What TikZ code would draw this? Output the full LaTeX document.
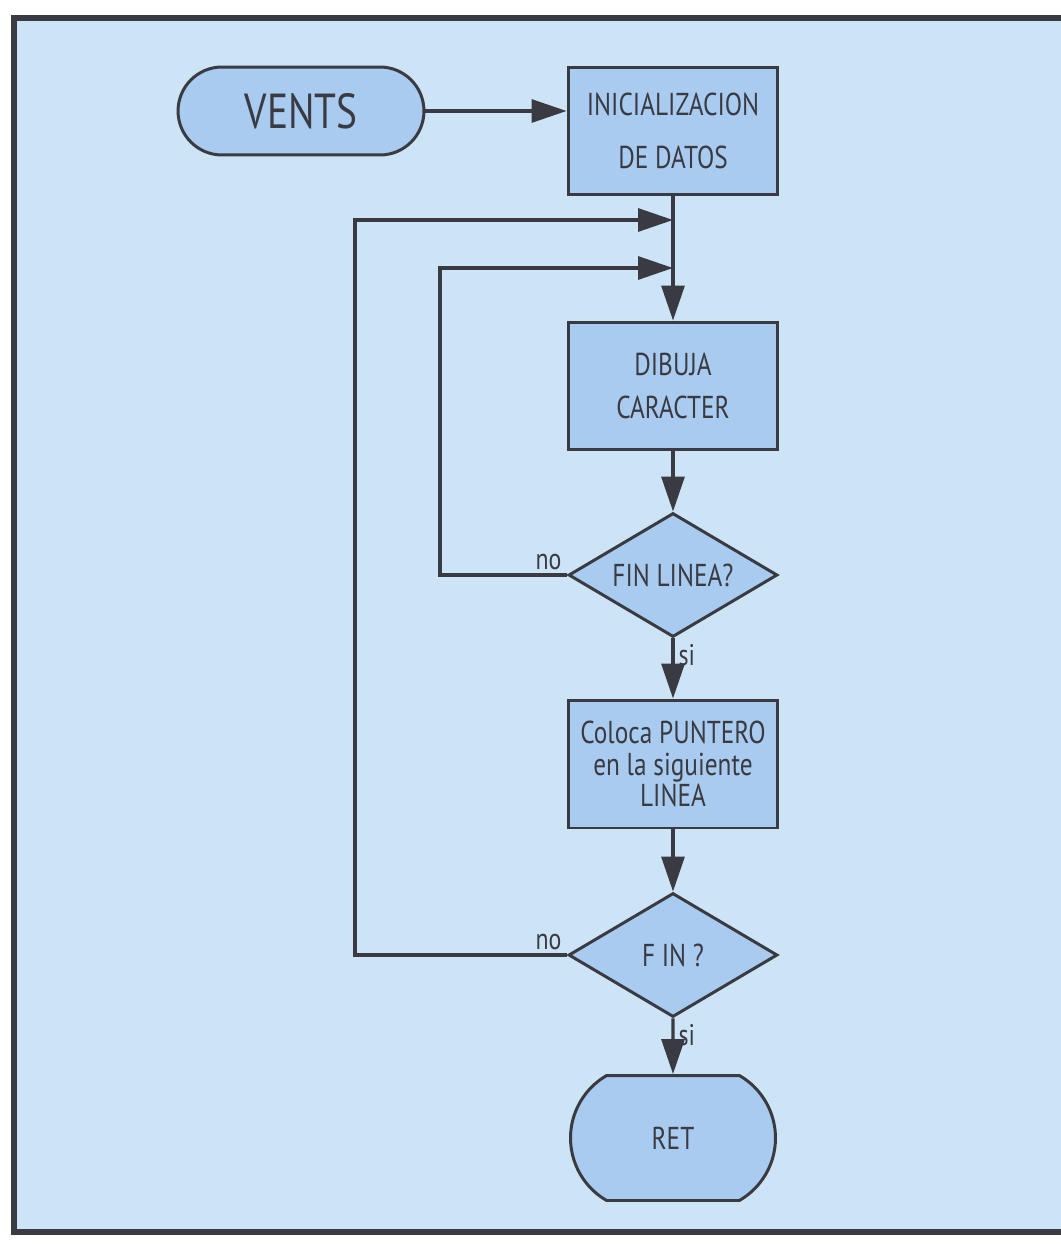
\documentclass[tikz,border=0pt]{standalone}
\usepackage{fontspec}
\setmainfont{PT Sans}[FakeStretch=0.8]
\usetikzlibrary{arrows.meta,shapes.geometric,shapes.misc,positioning}
\definecolor{fondo}{HTML}{CCE4F6}
\definecolor{caja}{HTML}{A8CBEF}
\definecolor{trazo}{HTML}{3A3B42}

\tikzset{
    base/.style={draw=trazo, fill=caja, line width=1.7pt, text=trazo, align=center, inner sep=2pt},
    proceso/.style={base, rectangle, minimum width=4.2cm, minimum height=2.56cm, font=\fontsize{18}{22}\selectfont},
    decision/.style={base, diamond, aspect=1.7, minimum width=4.18cm, minimum height=2.48cm, font=\fontsize{18}{22}\selectfont},
    terminal/.style={base, rounded rectangle, font=\fontsize{18}{22}\selectfont},
    flecha/.style={draw=trazo, line width=1.8pt, -{Triangle[length=0.7cm, width=0.46cm]}},
    etiqueta/.style={text=trazo, font=\fontsize{17}{20}\selectfont, inner sep=3pt}
}

\begin{document}
\begin{tikzpicture}[x=0.02cm, y=-0.02cm]
    \useasboundingbox (0,0) rectangle (1061,1244);
    \fill[white] (0,0) rectangle (1061,1244);
    \fill[fondo] (14,18) rectangle (1061,1232);
    \draw[trazo, line width=3pt] (1061,18) -- (14,18) -- (14,1232) -- (1061,1232);

    % bloques
    \node[terminal, minimum width=5.06cm, minimum height=1.76cm, font=\fontsize{28}{30}\selectfont] (vents) at (301,111) {VENTS};
    \node[proceso] (init) at (673,131) {INICIALIZACION\\[8pt]DE DATOS};
    \node[proceso] (dib) at (673,386) {DIBUJA\\[2pt]CARACTER};
    \node[decision] (finlin) at (673,575) {FIN LINEA?};
    \node[proceso] (coloca) at (673,764) {Coloca PUNTERO\\[-4pt]en la siguiente\\[-4pt]LINEA};
    \node[decision] (fin) at (673,955) {F IN ?};
    \node[terminal, rounded rectangle arc length=120, minimum width=4.24cm, minimum height=2.5cm] (ret) at (673,1138) {RET};

    % puntos de union
    \coordinate (u1) at (673,220);
    \coordinate (u2) at (673,268);
    \coordinate (c1) at (355,220);
    \coordinate (c2) at (440,268);

    % conexiones
    \draw[flecha] (vents.east) -- (vents.east -| init.west);
    \draw[flecha] (init) -- (dib);
    \draw[flecha] (dib) -- (finlin);
    \draw[flecha] (finlin) -- (coloca);
    \draw[flecha] (coloca) -- (fin);
    \draw[flecha] (fin) -- (ret);
    \draw[flecha] (finlin.west) -| (c2) -- (u2);
    \draw[flecha] (fin.west) -| (c1) -- (u1);

    \node[etiqueta, above left] (no1) at (finlin.west) {no};
    \node[etiqueta, below right] (si1) at (finlin.south) {si};
    \node[etiqueta, above left] (no2) at (fin.west) {no};
    \node[etiqueta, below right] (si2) at (fin.south) {si};
\end{tikzpicture}
\end{document}
